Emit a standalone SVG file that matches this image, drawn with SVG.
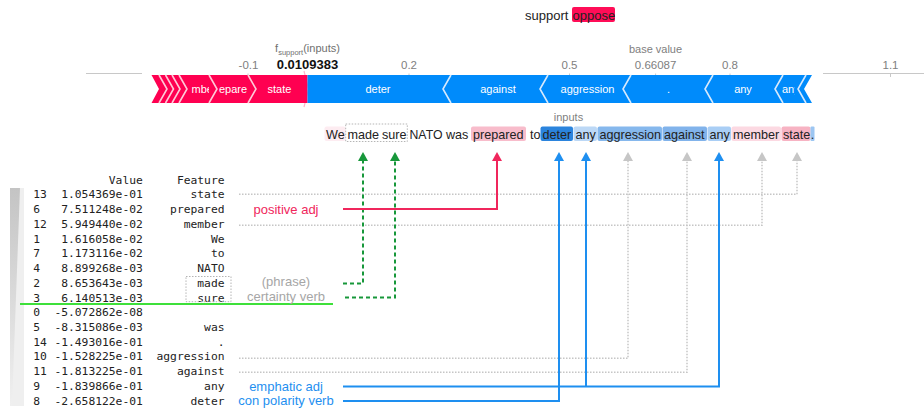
<svg xmlns="http://www.w3.org/2000/svg" width="924" height="408" viewBox="0 0 924 408">
<style>
.sans{font-family:"Liberation Sans",Arial,sans-serif}
.mono{font-family:"DejaVu Sans Mono","Liberation Mono",monospace;font-size:11.3px;fill:#222}
.tick{font-size:11.5px;fill:#808080;text-anchor:middle}
.barlbl{font-size:11px;fill:#fff;text-anchor:middle}
.sepR{fill:none;stroke:#ffc9d8;stroke-width:1.6}
.sepB{fill:none;stroke:#d6e9fd;stroke-width:1.6}
.word{font-size:12.6px;fill:#222}
.gray{fill:none;stroke:#c6c6c6;stroke-width:1.5;stroke-dasharray:1.5 1.5}
.green{fill:none;stroke:#17973a;stroke-width:2;stroke-dasharray:4 3}
.red{fill:none;stroke:#f0265c;stroke-width:2}
.blue{fill:none;stroke:#1e8ff0;stroke-width:2}
.lbl{font-size:13px;text-anchor:middle}
.axis{stroke:#c8c8c8;stroke-width:1}
</style>
<defs>
<marker id="ah-gray" viewBox="0 0 9 10" refX="0" refY="5" markerWidth="9" markerHeight="10" markerUnits="userSpaceOnUse" orient="auto"><path d="M0,0 L9,5 L0,10 z" fill="#c6c6c6"/></marker>
<marker id="ah-green" viewBox="0 0 9 10" refX="0" refY="5" markerWidth="9" markerHeight="10" markerUnits="userSpaceOnUse" orient="auto"><path d="M0,0 L9,5 L0,10 z" fill="#17973a"/></marker>
<marker id="ah-red" viewBox="0 0 9 10" refX="0" refY="5" markerWidth="9" markerHeight="10" markerUnits="userSpaceOnUse" orient="auto"><path d="M0,0 L9,5 L0,10 z" fill="#f0265c"/></marker>
<marker id="ah-blue" viewBox="0 0 9 10" refX="0" refY="5" markerWidth="9" markerHeight="10" markerUnits="userSpaceOnUse" orient="auto"><path d="M0,0 L9,5 L0,10 z" fill="#1e8ff0"/></marker>
<clipPath id="clip-member"><rect x="190" y="75" width="19" height="28"/></clipPath>
<clipPath id="clip-any2"><rect x="781" y="75" width="13.5" height="28"/></clipPath>
<linearGradient id="wedge" x1="0" y1="0" x2="0" y2="1"><stop offset="0" stop-color="#c4c4c4"/><stop offset="1" stop-color="#f0f0f0"/></linearGradient>
</defs>

<g id="header" class="sans">
<text x="525" y="19.5" font-size="13" fill="#222">support</text>
<rect x="572" y="7" width="43" height="15" rx="2" fill="#ff0d57"/>
<text x="572.5" y="19.5" font-size="13" fill="#222">oppose</text>
</g>

<g id="force-plot" class="sans">
<line class="axis" x1="86" y1="73.5" x2="142" y2="73.5"/>
<line class="axis" x1="823" y1="73.5" x2="924" y2="73.5"/>
<g class="axis">
<line x1="248" y1="73.5" x2="248" y2="77"/>
<line x1="409" y1="73.5" x2="409" y2="77"/>
<line x1="569.5" y1="73.5" x2="569.5" y2="77"/>
<line x1="655.6" y1="73.5" x2="655.6" y2="77"/>
<line x1="730" y1="73.5" x2="730" y2="77"/>
<line x1="890.5" y1="73.5" x2="890.5" y2="77"/>
</g>
<text class="tick" x="248.5" y="69">-0.1</text>
<text class="tick" x="409" y="69">0.2</text>
<text class="tick" x="569.5" y="69">0.5</text>
<text class="tick" x="655.6" y="69">0.66087</text>
<text class="tick" x="730" y="69">0.8</text>
<text class="tick" x="890.5" y="69">1.1</text>
<text x="307.5" y="52" font-size="11" fill="#707070" text-anchor="middle">f<tspan font-size="7.5" dy="2.5">support</tspan><tspan dy="-2.5">(inputs)</tspan></text>
<text x="307.5" y="69" font-size="13" font-weight="bold" fill="#111" text-anchor="middle">0.0109383</text>
<text x="655.5" y="53" font-size="11" fill="#808080" text-anchor="middle">base value</text>
<polyline points="304,71 308.5,89 304,107" fill="none" stroke="#ffb3c8" stroke-width="1.2"/>

<polygon points="151.5,75 307.5,75 307.5,103 151.5,103 159,89" fill="#ff0051"/>
<polyline class="sepR" points="159,75 167,89 159,103"/>
<polyline class="sepR" points="165.5,75 173.5,89 165.5,103"/>
<polyline class="sepR" points="172,75 180,89 172,103"/>
<polyline class="sepR" points="179,75 187,89 179,103"/>
<polyline class="sepR" points="209,75 217,89 209,103"/>
<polyline class="sepR" points="248,75 256,89 248,103"/>
<text class="barlbl" x="191.5" y="93" style="text-anchor:start" clip-path="url(#clip-member)">mbe</text>
<text class="barlbl" x="219" y="93" style="text-anchor:start">epare</text>
<text class="barlbl" x="279.5" y="93">state</text>

<polygon points="307.5,75 812,75 804,89 812,103 307.5,103" fill="#008bfb"/>
<polyline class="sepB" points="451,75 443,89 451,103"/>
<polyline class="sepB" points="548,75 540,89 548,103"/>
<polyline class="sepB" points="631,75 623,89 631,103"/>
<polyline class="sepB" points="713,75 705,89 713,103"/>
<polyline class="sepB" points="783,75 775,89 783,103"/>
<polyline class="sepB" points="806,75 798,89 806,103"/>
<text class="barlbl" x="378" y="93">deter</text>
<text class="barlbl" x="498" y="93">against</text>
<text class="barlbl" x="587.5" y="93">aggression</text>
<text class="barlbl" x="668.5" y="93">.</text>
<text class="barlbl" x="743" y="93">any</text>
<text class="barlbl" x="782" y="93" style="text-anchor:start" clip-path="url(#clip-any2)">any</text>
</g>

<g id="input-text" class="sans">
<text x="568.5" y="120.5" font-size="11" fill="#808080" text-anchor="middle">inputs</text>
<rect x="324.5" y="126.5" width="21" height="14.5" rx="2" fill="#fdecf1"/>
<rect x="471" y="126.5" width="55" height="14.5" rx="2" fill="#f8bccb"/>
<rect x="540.5" y="126.5" width="32.5" height="14.5" rx="2" fill="#2b84dd"/>
<rect x="573.5" y="126.5" width="23.5" height="14.5" rx="2" fill="#bcd8f6"/>
<rect x="597.5" y="126.5" width="64.5" height="14.5" rx="2" fill="#86b8ed"/>
<rect x="662.5" y="126.5" width="44.5" height="14.5" rx="2" fill="#81b3eb"/>
<rect x="707.5" y="126.5" width="23.5" height="14.5" rx="2" fill="#a9cef5"/>
<rect x="731.5" y="126.5" width="49.5" height="14.5" rx="2" fill="#fcd9e2"/>
<rect x="781.5" y="126.5" width="29" height="14.5" rx="2" fill="#f7b3c3"/>
<rect x="810.5" y="126.5" width="4" height="14.5" rx="1" fill="#9cc6f2"/>
<rect x="345.7" y="124" width="61.6" height="17.5" fill="none" stroke="#b5b5b5" stroke-width="1" stroke-dasharray="1.5 1.5"/>
<text class="word" y="138.5"><tspan x="326">We</tspan><tspan x="347.5">made</tspan><tspan x="382">sure</tspan><tspan x="409.5" textLength="33" lengthAdjust="spacingAndGlyphs">NATO</tspan><tspan x="446">was</tspan><tspan x="473">prepared</tspan><tspan x="530">to</tspan><tspan x="542.5">deter</tspan><tspan x="575.5">any</tspan><tspan x="599.5">aggression</tspan><tspan x="664">against</tspan><tspan x="709.5">any</tspan><tspan x="733">member</tspan><tspan x="783">state</tspan><tspan x="810.7">.</tspan></text>
</g>

<g id="table">
<rect x="10" y="188" width="14" height="218" fill="#efefef"/>
<polygon points="10,188 20,188 12,406 10,406" fill="url(#wedge)"/>
<text class="mono" x="142.8" y="183.5" text-anchor="end">Value</text>
<text class="mono" x="224.5" y="183.5" text-anchor="end">Feature</text>
<g class="mono">
<text x="33.3" y="198.3">13</text><text x="142.8" y="198.3" text-anchor="end">1.054369e-01</text><text x="224.5" y="198.3" text-anchor="end">state</text>
<text x="33.3" y="213">6</text><text x="142.8" y="213" text-anchor="end">7.511248e-02</text><text x="224.5" y="213" text-anchor="end">prepared</text>
<text x="33.3" y="227.8">12</text><text x="142.8" y="227.8" text-anchor="end">5.949440e-02</text><text x="224.5" y="227.8" text-anchor="end">member</text>
<text x="33.3" y="242.5">1</text><text x="142.8" y="242.5" text-anchor="end">1.616058e-02</text><text x="224.5" y="242.5" text-anchor="end">We</text>
<text x="33.3" y="257.3">7</text><text x="142.8" y="257.3" text-anchor="end">1.173116e-02</text><text x="224.5" y="257.3" text-anchor="end">to</text>
<text x="33.3" y="272">4</text><text x="142.8" y="272" text-anchor="end">8.899268e-03</text><text x="224.5" y="272" text-anchor="end">NATO</text>
<text x="33.3" y="286.7">2</text><text x="142.8" y="286.7" text-anchor="end">8.653643e-03</text><text x="224.5" y="286.7" text-anchor="end">made</text>
<text x="33.3" y="301.5">3</text><text x="142.8" y="301.5" text-anchor="end">6.140513e-03</text><text x="224.5" y="301.5" text-anchor="end">sure</text>
<text x="33.3" y="316.2">0</text><text x="142.8" y="316.2" text-anchor="end">-5.072862e-08</text>
<text x="33.3" y="331">5</text><text x="142.8" y="331" text-anchor="end">-8.315086e-03</text><text x="224.5" y="331" text-anchor="end">was</text>
<text x="33.3" y="345.7">14</text><text x="142.8" y="345.7" text-anchor="end">-1.493016e-01</text><text x="224.5" y="345.7" text-anchor="end">.</text>
<text x="33.3" y="360.4">10</text><text x="142.8" y="360.4" text-anchor="end">-1.528225e-01</text><text x="224.5" y="360.4" text-anchor="end">aggression</text>
<text x="33.3" y="375.2">11</text><text x="142.8" y="375.2" text-anchor="end">-1.813225e-01</text><text x="224.5" y="375.2" text-anchor="end">against</text>
<text x="33.3" y="389.9">9</text><text x="142.8" y="389.9" text-anchor="end">-1.839866e-01</text><text x="224.5" y="389.9" text-anchor="end">any</text>
<text x="33.3" y="404.7">8</text><text x="142.8" y="404.7" text-anchor="end">-2.658122e-01</text><text x="224.5" y="404.7" text-anchor="end">deter</text>
</g>
<rect x="186" y="276.5" width="45" height="25.2" fill="none" stroke="#b5b5b5" stroke-width="1" stroke-dasharray="1.5 1.5"/>
<line x1="20" y1="304" x2="333" y2="304" stroke="#3ee03a" stroke-width="2"/>
</g>

<g id="label-positive-adj" class="sans"><text class="lbl" x="286" y="214" fill="#f0265c">positive adj</text></g>
<g id="label-certainty-verb" class="sans"><text class="lbl" x="286" y="285.5" fill="#a6a6a6">(phrase)</text><text class="lbl" x="286" y="300.5" fill="#a6a6a6">certainty verb</text></g>
<g id="label-emphatic-adj" class="sans"><text class="lbl" x="286" y="390.5" fill="#1e8ff0">emphatic adj</text></g>
<g id="label-con-polarity-verb" class="sans"><text class="lbl" x="286" y="404.5" fill="#1e8ff0">con polarity verb</text></g>

<g id="connectors">
<path class="gray" d="M239,194.3 H797 V161" marker-end="url(#ah-gray)"/>
<path class="gray" d="M239,225.3 H762 V161" marker-end="url(#ah-gray)"/>
<path class="gray" d="M239,358.3 H628 V161" marker-end="url(#ah-gray)"/>
<path class="gray" d="M239,372.3 H687 V161" marker-end="url(#ah-gray)"/>
<path class="green" d="M343,283.5 H363 V161" marker-end="url(#ah-green)"/>
<path class="green" d="M345,297.5 H395 V161" marker-end="url(#ah-green)"/>
<path class="red" d="M343,209 H497 V161" marker-end="url(#ah-red)"/>
<path class="blue" d="M343,386.5 H719 V161" marker-end="url(#ah-blue)"/>
<path class="blue" d="M586,386.5 V161" marker-end="url(#ah-blue)"/>
<path class="blue" d="M343,401 H559 V161" marker-end="url(#ah-blue)"/>
</g>
</svg>
